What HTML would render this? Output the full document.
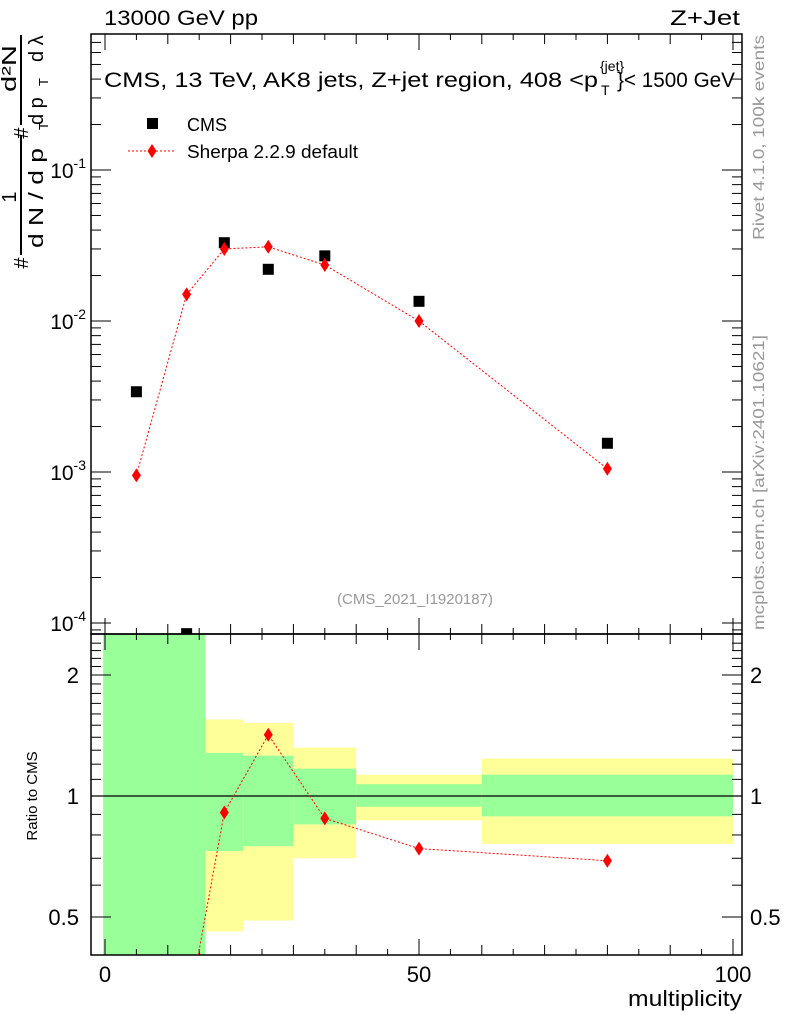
<!DOCTYPE html>
<html><head><meta charset="utf-8"><style>
body{margin:0;background:#fff}
svg{display:block;font-family:"Liberation Sans",sans-serif}
</style></head><body>
<svg id="c" width="786" height="1024" viewBox="0 0 786 1024">
<defs><clipPath id="rclip"><rect x="91" y="634" width="651" height="321"/></clipPath></defs>
<g id="bands"></g>
<g id="axes"></g>
<g id="marks"></g>
<text x="104" y="25" font-size="21" textLength="154" lengthAdjust="spacingAndGlyphs">13000 GeV pp</text>
<text x="670" y="25" font-size="21" textLength="70" lengthAdjust="spacingAndGlyphs">Z+Jet</text>
<g font-size="21">
<text x="104" y="87" textLength="494" lengthAdjust="spacingAndGlyphs">CMS, 13 TeV, AK8 jets, Z+jet region, 408 &lt;p</text>
<text x="600" y="71" font-size="14">{jet}</text>
<text x="601" y="95" font-size="14">T</text>
<text x="617" y="87" textLength="118" lengthAdjust="spacingAndGlyphs">}&lt; 1500 GeV</text>
</g>
<g>
<rect x="147" y="118" width="11" height="11" fill="#000"/>
<text x="187" y="131" font-size="18">CMS</text>
<line x1="128" y1="151" x2="175" y2="151" stroke="red" stroke-dasharray="2,2"/>
<path d="M152,144 L156.5,151 L152,158 L147.5,151Z" fill="red"/>
<text x="187" y="158" font-size="18" textLength="171" lengthAdjust="spacingAndGlyphs">Sherpa 2.2.9 default</text>
</g>
<text x="415" y="604" font-size="15" fill="#999" text-anchor="middle">(CMS_2021_I1920187)</text>
<text transform="translate(764,240) rotate(-90)" font-size="16" fill="#999" textLength="205" lengthAdjust="spacingAndGlyphs">Rivet 4.1.0,  100k events</text>
<text transform="translate(764,630) rotate(-90)" font-size="16" fill="#999" textLength="295" lengthAdjust="spacingAndGlyphs">mcplots.cern.ch [arXiv:2401.10621]</text>
<g font-size="20">
<text transform="translate(28,263) rotate(-90)" text-anchor="middle">#</text>
<line x1="21" y1="135" x2="21" y2="255" stroke="#000" stroke-width="2"/>
<text transform="translate(16,197) rotate(-90)" text-anchor="middle">1</text>
<text transform="translate(43,248) rotate(-90)" textLength="100" lengthAdjust="spacingAndGlyphs">d N / d p</text>
<text transform="translate(48,130) rotate(-90)" font-size="13">T</text>
<text transform="translate(28,133) rotate(-90)" text-anchor="middle">#</text>
<line x1="21" y1="35" x2="21" y2="125" stroke="#000" stroke-width="2"/>
<text transform="translate(16,92) rotate(-90)" textLength="47" lengthAdjust="spacingAndGlyphs">d²N</text>
<text transform="translate(43,125) rotate(-90)">d p</text>
<text transform="translate(48,86) rotate(-90)" font-size="13">T</text>
<text transform="translate(43,62) rotate(-90)">d λ</text>
</g>
<text transform="translate(37,796) rotate(-90)" font-size="15" text-anchor="middle">Ratio to CMS</text>
<text x="628" y="1006" font-size="22" textLength="114" lengthAdjust="spacingAndGlyphs">multiplicity</text>
</svg>
<script>
const xCenters=[5,13,19,26,35,50,80];
const cmsVals=[0.0034,0.000085,0.033,0.022,0.027,0.0135,0.00155];
const sherpaVals=[0.00095,0.015,0.030,0.031,0.0235,0.010,0.00105];
const ratioX=[13,19,26,35,50,80];
const ratioVals=[0.28,0.91,1.42,0.88,0.74,0.69];
const binEdges=[-0.3,16,22,30,40,60,100];
const greenLo=[0.1,0.73,0.75,0.85,0.94,0.89];
const greenHi=[3,1.28,1.26,1.17,1.07,1.13];
const yellowLo=[0.1,0.46,0.49,0.70,0.87,0.76];
const yellowHi=[3,1.55,1.52,1.32,1.13,1.24];
const xTicks=[0,50,100];
const yTicks=[-1,-2,-3,-4];
const rTicks=[0.5,1,2];
const rTickLabels=["0.5","1","2"];

const NS="http://www.w3.org/2000/svg";
const L=91,R=742,T=34,M=634,B=955;
const X=v=>105+v*6.28;
const Y=v=>170-(Math.log10(v)+1)*151;
const YR=v=>796-Math.log2(v)*121;
function mk(p,tag,a){const e=document.createElementNS(NS,tag);for(const k in a)e.setAttribute(k,a[k]);document.getElementById(p).appendChild(e);return e;}

for(let i=0;i<binEdges.length-1;i++){
  const x0=X(binEdges[i]),x1=X(binEdges[i+1]);
  const clip=v=>Math.max(M,Math.min(B,YR(v)));
  const y=mk('bands','rect',{x:x0,y:clip(yellowHi[i]),width:x1-x0,height:clip(yellowLo[i])-clip(yellowHi[i]),fill:'#ffff99'});
  
  
  const g=mk('bands','rect',{x:x0,y:clip(greenHi[i]),width:x1-x0,height:clip(greenLo[i])-clip(greenHi[i]),fill:'#99ff99'});
  
  
}
let f=mk('axes','rect',{x:L,y:T,width:R-L,height:M-T,fill:'none',stroke:'#000','stroke-width':1.5});


f=mk('axes','rect',{x:L,y:M,width:R-L,height:B-M,fill:'none',stroke:'#000','stroke-width':1.5});


let rl=mk('axes','line',{x1:L,x2:R,y1:YR(1),y2:YR(1),stroke:'#000','stroke-width':1.2});


for(let v=0;v<=100;v+=5){
  const len=v%50===0?16:(v%10===0?10:6);
  for(const [y0,d] of [[B,-1],[M,-1],[M,1],[T,1]]){
    mk('axes','line',{x1:X(v),x2:X(v),y1:y0,y2:y0+d*len,stroke:'#000'});
  }
}
for(const v of xTicks){
  const t=mk('axes','text',{x:X(v),y:982,'font-size':22,'text-anchor':'middle'});t.textContent=v;
  
  
}
for(let d=-5;d<=0;d++){for(let m=1;m<10;m++){
  const v=m*Math.pow(10,d);const y=Y(v);if(y<T||y>M)continue;
  const len=m===1?20:10;
  mk('axes','line',{x1:L,x2:L+len,y1:y,y2:y,stroke:'#000'});
  mk('axes','line',{x1:R,x2:R-len,y1:y,y2:y,stroke:'#000'});
}}
for(const e of yTicks){
  const t=mk('axes','text',{x:86,y:Y(Math.pow(10,e))+8,'font-size':21,'text-anchor':'end'});
  t.innerHTML='10<tspan font-size="14" dy="-10">'+e+'</tspan>';
  
  
}
for(let v=0.4;v<=2.5;v+=0.1){
  const y=YR(v);if(y<M||y>B)continue;
  const major=Math.abs(v-0.5)<1e-6||Math.abs(v-1)<1e-6||Math.abs(v-2)<1e-6;
  const len=major?20:10;
  mk('axes','line',{x1:L,x2:L+len,y1:y,y2:y,stroke:'#000'});
  mk('axes','line',{x1:R,x2:R-len,y1:y,y2:y,stroke:'#000'});
}
rTicks.forEach((v,i)=>{
  const t=mk('axes','text',{x:79,y:YR(v)+8,'font-size':22,'text-anchor':'end'});t.textContent=rTickLabels[i];
  
  
  const t2=mk('axes','text',{x:750,y:YR(v)+8,'font-size':22});t2.textContent=rTickLabels[i];
  
  
});
const sp=mk('marks','polyline',{points:xCenters.map((x,i)=>X(x)+','+Y(sherpaVals[i])).join(' '),fill:'none',stroke:'red','stroke-dasharray':'2,2'});


const dia=(p,x,y,n)=>{const d=mk(p,'path',{d:`M${x},${y-7}L${x+4.5},${y}L${x},${y+7}L${x-4.5},${y}Z`,fill:'red'});
  
  };
xCenters.forEach((x,i)=>{
  const cy=Y(cmsVals[i]);
  if(cy<M){const r=mk('marks','rect',{x:X(x)-5.5,y:cy-5.5,width:11,height:Math.min(11,M-cy+5.5),fill:'#000'});
  
  }
  dia('marks',X(x),Y(sherpaVals[i]),'sherpa-point');
});
const rp=mk('marks','polyline',{points:ratioX.map((x,i)=>X(x)+','+YR(ratioVals[i])).join(' '),fill:'none',stroke:'red','stroke-dasharray':'2,2','clip-path':'url(#rclip)'});


ratioX.forEach((x,i)=>{ if(YR(ratioVals[i])<B) dia('marks',X(x),YR(ratioVals[i]),'ratio-point'); });
</script>
</body></html>
